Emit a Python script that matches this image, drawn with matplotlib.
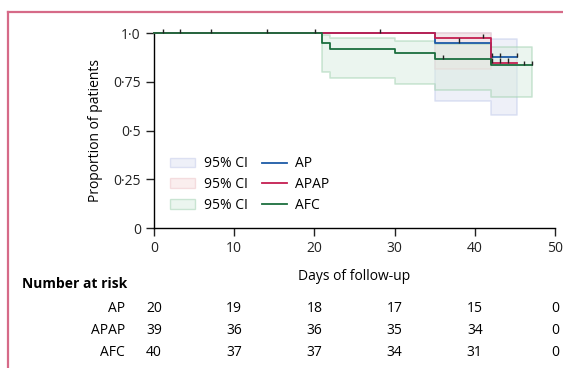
import numpy as np
import matplotlib
matplotlib.use("Agg")
import matplotlib.pyplot as plt
from matplotlib.lines import Line2D
from matplotlib.patches import Patch
from matplotlib.transforms import blended_transform_factory

# step curves (time of change, survival after change)
ap_t = [0, 35, 42, 45.2]
ap_s = [1.0, 0.95, 0.875, 0.875]
apap_t = [0, 35, 42, 45.2]
apap_s = [1.0, 0.974, 0.848, 0.848]
afc_t = [0, 21, 22, 30, 35, 42, 47.1]
afc_s = [1.0, 0.95, 0.92, 0.895, 0.865, 0.835, 0.835]

# 95% CI bands
ap_ci_t = [35, 42, 45.2]
ap_ci_lo = [0.652, 0.58, 0.58]
ap_ci_hi = [1.0, 0.969, 0.969]
apap_ci_t = [35, 42]
apap_ci_lo = [0.814, 0.814]
apap_ci_hi = [1.0, 1.0]
afc_ci_t = [21, 22, 30, 35, 42, 47.1]
afc_ci_lo = [0.802, 0.767, 0.737, 0.706, 0.673, 0.673]
afc_ci_hi = [0.991, 0.974, 0.959, 0.945, 0.926, 0.926]

# censoring marks
ap_cens = [28.2, 38.0, 42.1, 43.1, 45.2]
apap_cens = [3.2, 7.1, 14.1, 41.0, 42.1, 43.1, 44.2]
afc_cens = [1.1, 20.1, 36.0, 46.1, 47.1]

risk_times = [0, 10, 20, 30, 40, 50]
risk_groups = ["AP", "APAP", "AFC"]
risk_ap = [20, 19, 18, 17, 15, 0]
risk_apap = [39, 36, 36, 35, 34, 0]
risk_afc = [40, 37, 37, 34, 31, 0]

c_ap, c_apap, c_afc = "#1c5aa6", "#c41e50", "#1b6e3e"
f_ap, f_apap, f_afc = "#dfe3f3", "#f7dede", "#d9ece0"
e_ap, e_apap, e_afc = "#c3cbea", "#eec4c8", "#9fd0ae"

plt.rcParams["font.family"] = ["Open Sans", "DejaVu Sans"]
plt.rcParams["font.size"] = 10
fs = 10


def surv_at(t, s, x):
    idx = np.searchsorted(t, x, side="right") - 1
    return np.asarray(s)[idx]


fig = plt.figure(figsize=(5.63, 3.68), dpi=100)
ax = fig.add_axes([0.2735, 0.3804, 0.7123, 0.5299])

for t, lo, hi, fc, ec in [(ap_ci_t, ap_ci_lo, ap_ci_hi, f_ap, e_ap),
                          (apap_ci_t, apap_ci_lo, apap_ci_hi, f_apap, e_apap),
                          (afc_ci_t, afc_ci_lo, afc_ci_hi, f_afc, e_afc)]:
    ax.fill_between(t, lo, hi, step="post", facecolor=fc, edgecolor=ec,
                    alpha=0.5, lw=1.2, clip_on=False)

for t, s, c in [(ap_t, ap_s, c_ap), (apap_t, apap_s, c_apap), (afc_t, afc_s, c_afc)]:
    ax.step(t, s, where="post", color=c, lw=1.3, clip_on=False, zorder=3)

for t, s, cens in [(ap_t, ap_s, ap_cens), (apap_t, apap_s, apap_cens), (afc_t, afc_s, afc_cens)]:
    ys = surv_at(t, s, cens)
    ax.vlines(cens, ys, ys + 0.022, color="#222222", lw=1.0, clip_on=False, zorder=4)

ax.set_xlim(0, 50)
ax.set_ylim(0, 1.0)
ax.set_xticks(risk_times)
ax.set_yticks([0, 0.25, 0.5, 0.75, 1.0])
ax.set_yticklabels(["0", "0\u00b725", "0\u00b75", "0\u00b775", "1\u00b70"])
for sp in ["top", "right"]:
    ax.spines[sp].set_visible(False)
ax.spines["left"].set_linewidth(1.0)
ax.spines["bottom"].set_linewidth(1.0)
ax.tick_params(direction="out", length=6, width=1.0, colors="#222222", labelsize=fs)
ax.set_ylabel("Proportion of patients", fontsize=fs, labelpad=7)
ax.set_xlabel("Days of follow-up", fontsize=fs, labelpad=9)

handles = [Patch(facecolor=f_ap, edgecolor=e_ap, alpha=0.5),
           Patch(facecolor=f_apap, edgecolor=e_apap, alpha=0.5),
           Patch(facecolor=f_afc, edgecolor=e_afc, alpha=0.5),
           Line2D([], [], color=c_ap, lw=1.3),
           Line2D([], [], color=c_apap, lw=1.3),
           Line2D([], [], color=c_afc, lw=1.3)]
labels = ["95% CI", "95% CI", "95% CI"] + risk_groups
ax.legend(handles, labels, ncol=2, frameon=False, loc="lower left",
          bbox_to_anchor=(0.01, 0.015), fontsize=fs, handlelength=1.8,
          columnspacing=1.0, handletextpad=0.6, labelspacing=0.4)

# number at risk table
tr = blended_transform_factory(ax.transData, fig.transFigure)
fig.text(0.039, 1 - 284 / 368, "Number at risk", fontsize=fs, weight="bold",
         va="center", ha="left")
row_y = [1 - 308 / 368, 1 - 330 / 368, 1 - 352 / 368]
for name, vals, y in zip(risk_groups, [risk_ap, risk_apap, risk_afc], row_y):
    fig.text(125 / 563, y, name, fontsize=fs, ha="right", va="center")
    for tt, v in zip(risk_times, vals):
        ax.text(tt, y, str(v), transform=tr, fontsize=fs, ha="center", va="center")

# frame
fx, fy = 8 / 563, 1 - 12 / 368
fig.add_artist(Line2D([fx, 1.0], [fy, fy], transform=fig.transFigure, color="#d66a88", lw=1.6))
fig.add_artist(Line2D([fx, fx], [0, fy], transform=fig.transFigure, color="#d66a88", lw=1.6))

fig.savefig("out.png", dpi=100)
